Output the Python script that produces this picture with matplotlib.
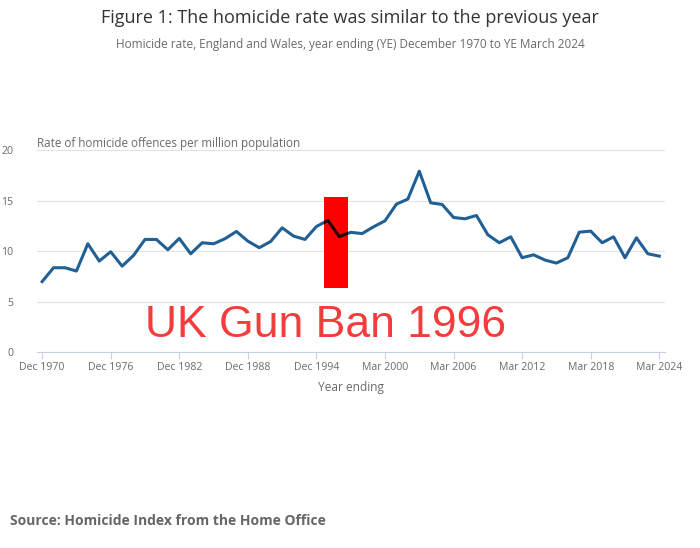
import matplotlib.pyplot as plt
import matplotlib.patches as patches

plt.rcParams['font.family'] = ['Open Sans', 'DejaVu Sans']

# year ending labels: calendar years to 1997, then financial years from YE Mar 1998
periods = ['Dec %d' % y for y in range(1970, 1998)] + ['Mar %d' % y for y in range(1998, 2025)]
rate = [7.0, 8.37, 8.37, 8.04, 10.74, 9.03, 9.95, 8.53, 9.59, 11.17,
        11.17, 10.15, 11.27, 9.75, 10.84, 10.74, 11.24, 11.96, 11.0, 10.35,
        10.97, 12.32, 11.5, 11.17, 12.45, 13.05, 11.45, 11.87, 11.75, 12.42,
        13.01, 14.66, 15.16, 17.92, 14.79, 14.63, 13.34, 13.21, 13.54, 11.63,
        10.84, 11.43, 9.36, 9.65, 9.13, 8.83, 9.36, 11.89, 11.99, 10.84,
        11.43, 9.36, 11.33, 9.75, 9.52]
tick_labels = ['Dec 1970', 'Dec 1976', 'Dec 1982', 'Dec 1988', 'Dec 1994',
               'Mar 2000', 'Mar 2006', 'Mar 2012', 'Mar 2018', 'Mar 2024']

x = list(range(len(periods)))
tick_pos = [periods.index(t) for t in tick_labels]

fig = plt.figure(figsize=(7, 5.48), dpi=100)
ax = fig.add_axes([0.053, 0.357, 0.897, 0.369])

ax.plot(x, rate, color='#206095', lw=2.2, zorder=3)

# red box, line shows through it darkened
box = patches.Rectangle((24.67, 6.4), 2.1, 9.0, facecolor='#ff0000', edgecolor='none', zorder=4)
ax.add_patch(box)
dark, = ax.plot(x, rate, color='#200000', lw=2.2, zorder=5)
dark.set_clip_path(box)

ax.set_xlim(-0.44, 54.5)
ax.set_ylim(0, 20)
ax.set_yticks([0, 5, 10, 15, 20])
ax.set_xticks(tick_pos)
ax.set_xticklabels(tick_labels)
ax.grid(axis='y', color='#e2e2e2', lw=0.8)
ax.set_axisbelow(True)
for s in ['top', 'right', 'left']:
    ax.spines[s].set_visible(False)
ax.spines['bottom'].set_color('#c5cfe0')
ax.tick_params(axis='x', colors='#c5cfe0', length=5, labelcolor='#6a6a6a', labelsize=7.6, pad=2)
ax.tick_params(axis='y', length=0, labelcolor='#6a6a6a', labelsize=7.6, pad=17)
ax.set_xlabel('Year ending', color='#6a6a6a', fontsize=8.6, labelpad=6)

ax.text(0, 1.0, 'Rate of homicide offences per million population', transform=ax.transAxes,
        ha='left', va='bottom', color='#6a6a6a', fontsize=8.4)

ax.text(24.8, 1.54, 'UK Gun Ban 1996', ha='center', va='baseline', color='#f33c3c',
        fontsize=32, family=['Liberation Sans', 'DejaVu Sans'], zorder=6)

fig.text(0.5, 0.967, 'Figure 1: The homicide rate was similar to the previous year',
         ha='center', va='center', color='#333333', fontsize=13.0)
fig.text(0.5, 0.919, 'Homicide rate, England and Wales, year ending (YE) December 1970 to YE March 2024',
         ha='center', va='center', color='#6a6a6a', fontsize=8.5)
fig.text(0.014, 0.049, 'Source: Homicide Index from the Home Office',
         ha='left', va='center', color='#666666', fontsize=10.0, weight='bold')

fig.savefig('out.png', dpi=100)
